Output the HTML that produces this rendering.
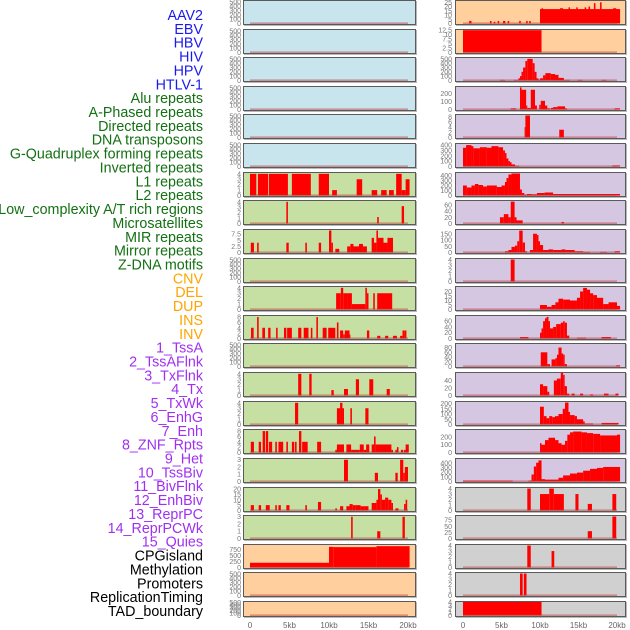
<!DOCTYPE html>
<html><head><meta charset="utf-8"><style>
body{margin:0;background:#fff;width:630px;height:630px;overflow:hidden}
svg{display:block}
.lbl{font-family:"Liberation Sans",sans-serif;font-size:14.3px}
.tk{font-family:"Liberation Sans",sans-serif;font-size:7px;fill:#777}
.xt{font-family:"Liberation Sans",sans-serif;font-size:8px;fill:#666}
</style></head><body>
<svg id="chart" width="630" height="630"></svg>
<script>
const labels=["AAV2","EBV","HBV","HIV","HPV","HTLV-1","Alu repeats","A-Phased repeats","Directed repeats","DNA transposons","G-Quadruplex forming repeats","Inverted repeats","L1 repeats","L2 repeats","Low_complexity A/T rich regions","Microsatellites","MIR repeats","Mirror repeats","Z-DNA motifs","CNV","DEL","DUP","INS","INV","1_TssA","2_TssAFlnk","3_TxFlnk","4_Tx","5_TxWk","6_EnhG","7_Enh","8_ZNF_Rpts","9_Het","10_TssBiv","11_BivFlnk","12_EnhBiv","13_ReprPC","14_ReprPCWk","15_Quies","CPGisland","Methylation","Promoters","ReplicationTiming","TAD_boundary"];
const labelColors=[];
for(let i=0;i<44;i++){labelColors.push(i<6?"#1a1aee":i<19?"#137013":i<24?"#ffa500":i<39?"#a030f0":"#000");}
const xTicks=[0,5,10,15,20];
const xTickLabels=["0","5kb","10kb","15kb","20kb"];
const T500=[0,100,200,300,400,500],T4=[0,1,2,3,4],T3=[0,1,2,3];
const L_l1=[[0,0.8,4],[1,2.3,4],[2.4,4.8,4],[5.3,7.7,4],[8.7,10,4],[10.4,11,1],[13.5,14.2,3],[15.4,16.1,1],[16.6,17.3,1],[17.6,18.2,1],[18.5,19.2,4],[19.2,19.7,1],[19.7,20.2,3]];
const L_l2=[[4.6,4.8,4],[16.1,16.3,1.2],[19.2,19.5,3.2]];
const L_lowc=[[0.1,0.5,4],[0.9,1.1,4],[4.6,4.9,4],[7,7.2,4],[8.7,9,4],[10,10.3,9],[10.3,10.5,4],[10.8,11.3,1.5],[12.3,12.7,2.5],[12.7,13.1,3.5],[13.1,13.8,2.5],[13.8,14.3,3.5],[14.3,14.8,2.5],[15.4,15.7,6],[15.7,16,4],[16,16.2,9],[16.2,16.9,6],[16.9,17.4,4],[17.4,18.1,6]];
const L_mir=[[10.9,11.5,3],[11.5,11.8,4],[11.8,12.4,3],[12.4,12.9,3],[12.9,14.6,1],[14.6,14.8,4],[14.8,15,3],[15.6,15.8,3],[16.1,18,3]];
const L_zdna=[[0.13,0.46,4],[0.9,1.1,8],[1.56,1.9,4],[2.3,2.6,4],[3.3,3.5,4],[4.3,4.6,4],[4.7,5.3,4],[6.1,6.5,4],[6.8,7.4,4],[7.7,7.9,4],[8.4,8.6,8],[9.2,9.7,4],[9.9,10.8,4],[11,11.2,6],[11.4,11.8,3],[11.8,12,1.5],[12,12.6,3],[12.6,12.7,1.5],[14.8,15.1,3],[16.1,16.5,1],[17.1,17.5,1],[18.1,18.6,1],[19,19.3,1],[19.3,19.6,3],[19.6,19.8,3]];
const L_dup=[[6.1,6.5,4],[7.5,7.8,4],[10.3,10.6,1],[11.9,12.4,1.2],[13.4,13.8,3],[15.1,15.6,3],[17.3,17.7,1.2]];
const L_ins=[[5.7,6.1,4],[11,11.4,3],[11.4,11.7,4],[11.7,11.9,3],[12.7,12.9,3],[14.6,15,3]];
const L_inv=[[0.1,0.5,4],[1.1,1.4,4],[1.6,1.9,8],[2,2.3,8],[2.4,2.8,4],[3.2,3.4,4],[3.6,4.2,4],[4.6,4.8,4],[5.3,5.6,4],[5.7,5.9,4],[6.2,6.5,8],[6.6,7.3,4],[8.5,9,4],[10.8,11,1],[11,11.9,3],[12.2,12.8,3],[12.8,13.9,1],[13.9,14.4,3],[14.4,14.7,1],[14.7,15.1,3],[15.4,15.7,3],[15.7,15.9,6],[15.9,17.9,3],[17.9,18.1,1],[18.4,18.6,1],[18.6,18.8,2],[19.1,19.4,1],[19.5,19.7,1],[19.7,20.1,3]];
const L_tssaf=[[11.9,12.4,3],[15.8,16.2,1.2],[18.4,18.7,1.2],[19,19.4,3],[19.4,19.6,1.2],[19.6,20,2]];
const L_txflnk=[[0.1,0.5,5],[1.1,1.4,5],[2,2.5,5],[3.2,3.4,5],[3.6,3.9,5],[4.6,5,5],[7,7.2,5],[8.6,9,8],[10.8,11,2],[11.4,11.8,4],[12.2,12.6,4],[12.6,13,6],[13,13.4,5],[13.4,14,5],[14,14.5,4],[14.5,15,4],[15.4,16,7],[16,16.2,10],[16.2,16.5,20],[16.5,16.7,15],[16.7,17.1,10],[17.1,17.5,12],[17.5,17.9,10],[17.9,18.1,7],[18.4,18.8,2],[19.5,19.7,6],[19.7,19.9,10]];
const L_tx=[[12.8,13,3],[16.1,16.5,1],[19.3,19.6,3]];
const L_cpg=[[0,10,200],[10,10.6,870],[10.6,16,860],[16,20.2,900]];
const R_ebv=[[0.8,1.1,3],[3.5,3.7,3],[4,4.2,2],[4.5,4.7,3],[5.2,5.5,3],[5.8,6,3],[7.3,7.5,3],[8.2,8.4,3],[8.6,8.8,3],[10,20.4,17],[10.2,10.4,18],[12.6,13,18],[13.7,13.9,19],[14.7,14.9,19],[15.8,16,19],[16.3,16.5,20],[17,17.2,24],[17.8,18,25],[19.5,19.9,18]];
const R_hbv=[[0,10.2,12.5]];
const R_hiv=[[4.8,5.45,15],[6.6,7.2,15],[7.2,7.4,50],[7.4,7.6,100],[7.6,7.8,200],[7.8,8.1,300],[8.1,8.35,450],[8.35,9.05,500],[9.05,9.3,400],[9.3,9.55,200],[9.55,9.8,50],[9.8,10,20],[10,10.4,50],[10.4,10.7,120],[10.7,11.4,170],[11.4,11.95,150],[11.95,12.4,130],[12.4,13.1,60],[13.1,13.9,15],[14.85,15.5,15],[18,18.65,15]];
const R_hpv=[[6.2,6.9,15],[7.4,7.6,280],[7.6,8.2,250],[8.2,8.35,50],[8.35,8.8,20],[8.8,9.35,250],[9.35,9.6,50],[9.9,10.1,60],[10.1,10.65,110],[10.65,10.95,50],[10.95,11.3,15],[11.4,11.7,20],[11.7,12.25,30],[12.25,13.25,40],[13.25,13.5,15],[19.7,20.4,15]];
const R_htlv=[[8,8.1,4],[8.1,8.7,8.5],[12.5,13.1,3]];
const R_alu=[[0,0.4,350],[0.4,1.1,400],[1.1,1.35,380],[1.35,2.2,340],[2.2,3.1,360],[3.1,3.7,350],[3.7,4.6,380],[4.6,5.2,360],[5.2,5.45,300],[5.45,5.65,250],[5.65,5.9,150],[5.9,6.1,100],[6.1,6.3,80],[6.3,6.75,40],[6.75,7.3,15],[19.4,20.4,20]];
const R_aph=[[0,0.5,200],[0.5,1.1,160],[1.1,1.55,200],[1.55,2,230],[2,2.6,210],[2.6,3.1,180],[3.1,4.4,200],[4.4,5,170],[5,5.45,200],[5.45,5.65,270],[5.65,5.9,350],[5.9,6.3,420],[6.3,7.4,440],[7.4,7.65,120],[7.65,7.95,50],[7.95,8.3,20],[8.3,8.9,30],[8.9,9.6,25],[9.6,10.6,50],[10.6,11.7,60],[11.7,20.4,30]];
const R_dir=[[4.8,5.3,20],[5.3,5.9,30],[5.9,6.2,20],[6.2,6.7,70],[6.7,6.95,20],[6.95,7.75,10],[12.8,13.1,5]];
const R_dna=[[5.45,5.9,10],[5.9,6.3,20],[6.3,6.75,45],[6.75,7.05,55],[7.05,7.3,90],[7.3,7.75,175],[7.75,8.05,80],[8.05,8.3,10],[8.7,9.1,20],[9.1,9.6,150],[9.6,9.8,140],[9.8,10,90],[10,10.4,60],[10.4,11.1,20],[11.1,11.7,25],[11.7,12.8,20],[12.8,13.3,25],[13.3,14.5,20],[14.5,15.6,10],[15.6,16.5,5],[17.8,18.7,5],[19.7,20.4,10]];
const R_gq=[[6.2,6.7,4]];
const R_inv=[[10,10.9,5],[10.9,11.5,3],[11.5,12,5],[12,12.4,8],[12.4,13,12],[13,13.9,11],[13.9,14.8,10],[14.8,15.2,13],[15.2,15.6,20],[15.6,16.1,24],[16.1,16.5,22],[16.5,16.9,18],[16.9,17.4,16],[17.4,18.2,13],[18.2,18.9,6],[18.9,20,8],[20,20.4,4]];
const R_l1=[[7.4,8.5,5],[10,10.2,20],[10.2,10.4,35],[10.4,10.65,60],[10.65,10.85,70],[10.85,11.1,75],[11.1,11.3,60],[11.3,11.7,35],[11.7,12.1,40],[12.1,12.7,50],[12.7,13,55],[13,13.2,60],[13.2,13.5,55],[13.5,13.8,10],[14.8,16,3],[18,19.2,5]];
const R_l2=[[10.1,10.95,60],[10.95,11.3,10],[11.5,12,30],[12,12.2,35],[12.2,12.4,50],[12.4,12.8,80],[12.8,13,55],[13,13.2,50],[13.2,13.5,10],[19.9,20.4,5]];
const R_lowc=[[10,10.4,30],[10.4,10.95,25],[10.95,11.2,10],[11.8,12.2,40],[12.2,12.4,45],[12.4,12.7,45],[12.7,13,60],[13,13.2,55],[13.2,13.5,25],[13.5,13.8,5],[14.1,14.5,5],[15.2,15.6,5],[16.5,16.9,3],[18.3,18.9,5],[19.8,20.2,5]];
const R_micro=[[10,10.5,170],[10.5,10.85,80],[10.85,11.2,60],[11.2,11.6,80],[11.6,11.95,70],[11.95,12.4,80],[12.4,12.95,100],[12.95,13.25,150],[13.25,13.7,210],[13.7,13.9,120],[13.9,14.5,90],[14.5,14.8,80],[14.8,15.6,50],[15.6,15.8,30],[15.8,16.9,10],[18,20.2,15]];
const R_mirr=[[10,10.2,120],[10.2,10.65,100],[10.65,11.1,160],[11.1,11.95,190],[11.95,12.4,160],[12.4,12.8,120],[12.8,13.25,100],[13.25,13.55,150],[13.55,13.9,230],[13.9,14.3,260],[14.3,15.4,270],[15.4,16.1,260],[16.1,16.9,250],[16.9,17.8,240],[17.8,20,220],[20,20.4,230]];
const R_zdna=[[0,6.45,20],[8.5,8.9,20],[8.9,9.2,150],[9.2,9.5,320],[9.5,9.8,400],[9.8,10.2,450],[10.2,10.65,50],[10.65,12.4,40],[12.4,13,80],[13,13.9,130],[13.9,14.8,170],[14.8,15.6,190],[15.6,16.5,230],[16.5,17.4,270],[17.4,18.2,290],[18.2,20.4,310]];
const R_cnv=[[8.35,8.8,4],[10,11.2,3],[11.2,11.8,4],[11.8,13.1,3],[14.6,15,3],[16.2,16.75,1.2],[19.4,19.9,3]];
const R_del=[[16.2,16.75,30],[19.4,19.9,90]];
const R_dup=[[8.35,8.8,4],[11.5,11.85,3]];
const R_ins=[[7.4,7.75,4],[7.9,8.25,4]];
const R_inv2=[[0,10.2,4]];
const EMPTY=[];
const leftPanels=[
 {d:EMPTY,bg:"#c8e4ec",t:T500,m:520},{d:EMPTY,bg:"#c8e4ec",t:T500,m:520},{d:EMPTY,bg:"#c8e4ec",t:T500,m:520},
 {d:EMPTY,bg:"#c8e4ec",t:T500,m:520},{d:EMPTY,bg:"#c8e4ec",t:T500,m:520},{d:EMPTY,bg:"#c8e4ec",t:T500,m:520},
 {d:L_l1,bg:"#c6e0a4",t:T4,m:4.15},{d:L_l2,bg:"#c6e0a4",t:T4,m:4.15},{d:L_lowc,bg:"#c6e0a4",t:[0,2.5,5,7.5],m:9.2},
 {d:EMPTY,bg:"#c6e0a4",t:T500,m:520},{d:L_mir,bg:"#c6e0a4",t:T4,m:4.15},{d:L_zdna,bg:"#c6e0a4",t:[0,2,4,6,8],m:8.4},
 {d:EMPTY,bg:"#c6e0a4",t:T500,m:520},{d:L_dup,bg:"#c6e0a4",t:T4,m:4.15},{d:L_ins,bg:"#c6e0a4",t:T4,m:4.15},
 {d:L_inv,bg:"#c6e0a4",t:[0,2,4,6,8],m:8.4},{d:L_tssaf,bg:"#c6e0a4",t:T3,m:3.1},{d:L_txflnk,bg:"#c6e0a4",t:[0,5,10,15,20],m:21},
 {d:L_tx,bg:"#c6e0a4",t:T3,m:3.1},{d:L_cpg,bg:"#ffd09e",t:[0,250,500,750],m:950},{d:EMPTY,bg:"#ffd09e",t:T500,m:520},{d:EMPTY,bg:"#ffd09e",t:T500,m:520}];
const rightPanels=[
 {d:R_ebv,bg:"#ffd09e",t:[0,5,10,15,20,25],m:26.5},{d:R_hbv,bg:"#ffd09e",t:[0,2.5,5,7.5,10,12.5],m:12.6},
 {d:R_hiv,bg:"#d5c6e2",t:T500,m:520},{d:R_hpv,bg:"#d5c6e2",t:[0,100,200],m:285},{d:R_htlv,bg:"#d5c6e2",t:[0,2,4,6,8],m:8.7},
 {d:R_alu,bg:"#d5c6e2",t:[0,100,200,300,400],m:420},{d:R_aph,bg:"#d5c6e2",t:[0,100,200,300,400],m:450},{d:R_dir,bg:"#d5c6e2",t:[0,20,40,60],m:72},
 {d:R_dna,bg:"#d5c6e2",t:[0,50,100,150],m:180},{d:R_gq,bg:"#d5c6e2",t:T4,m:4.1},{d:R_inv,bg:"#d5c6e2",t:[0,5,10,15,20],m:25},
 {d:R_l1,bg:"#d5c6e2",t:[0,20,40,60],m:78},{d:R_l2,bg:"#d5c6e2",t:[0,20,40,60,80],m:95},{d:R_lowc,bg:"#d5c6e2",t:[0,20,40],m:60},
 {d:R_micro,bg:"#d5c6e2",t:[0,50,100,150,200],m:215},{d:R_mirr,bg:"#d5c6e2",t:[0,100,200],m:290},{d:R_zdna,bg:"#d5c6e2",t:[0,100,200,300,400],m:480},
 {d:R_cnv,bg:"#d0d0d0",t:T4,m:4.1},{d:R_del,bg:"#d0d0d0",t:[0,25,50,75],m:92},{d:R_dup,bg:"#d0d0d0",t:T4,m:4.1},
 {d:R_ins,bg:"#d0d0d0",t:T4,m:4.1},{d:R_inv2,bg:"#d0d0d0",t:T4,m:4}];

const NS="http://www.w3.org/2000/svg";
const svg=document.getElementById("chart");
function mk(tag,at,parent){const e=document.createElementNS(NS,tag);for(const k in at)e.setAttribute(k,at[k]);(parent||svg).appendChild(e);return e;}
const rowTops=[];for(let i=0;i<22;i++)rowTops.push(Math.round(i*28.62));
function rowH(i){return i===21?16:25;}
const cols=[{x0:243,x1:416,a:250,b:408,tx:241,panels:leftPanels,name:"left"},{x0:455,x1:626,a:463,b:617,tx:452,panels:rightPanels,name:"right"}];

labels.forEach((s,i)=>{
 const t=mk("text",{x:203,y:(15+i*13.86+5).toFixed(1),"text-anchor":"end",class:"lbl",fill:labelColors[i]});
 
 
 t.textContent=s;
});

cols.forEach(c=>{
 const xs=v=>c.a+(c.b-c.a)*v/20;
 c.panels.forEach((p,i)=>{
  const top=rowTops[i],h=rowH(i);
  const g=mk("g",{});
  
  
  mk("rect",{x:c.x0+1,y:top+1,width:c.x1-c.x0,height:h,fill:"#b8b8b8"},g);
  mk("rect",{x:c.x0+0.5,y:top+0.5,width:c.x1-c.x0-1,height:h-1,fill:p.bg,stroke:"#5a5a5a","stroke-width":1},g);
  const base=top+h-1.5,ptop=top+1;
  const ys=v=>base-(base-ptop)*v/p.m;
  p.d.forEach(s=>{
   const r=mk("rect",{x:xs(s[0]).toFixed(2),y:ys(s[2]).toFixed(2),width:Math.max(0.8,xs(s[1])-xs(s[0])).toFixed(2),height:(base-ys(s[2])).toFixed(2),fill:"#ff0000"},g);
   
   
  });
  mk("rect",{x:xs(0),y:base-1,width:xs(20)-xs(0),height:1.3,fill:"#c03030",opacity:0.55},g);
  p.t.forEach(v=>{
   const t=mk("text",{x:c.tx,y:(ys(v)+2.5).toFixed(1),"text-anchor":"end",class:"tk"},g);
   
   
   t.textContent=String(v);
  });
 });
 xTicks.forEach((v,k)=>{
  const t=mk("text",{x:xs(v),y:628,"text-anchor":"middle",class:"xt"});
  
  
  t.textContent=xTickLabels[k];
 });
});
</script>
</body></html>
